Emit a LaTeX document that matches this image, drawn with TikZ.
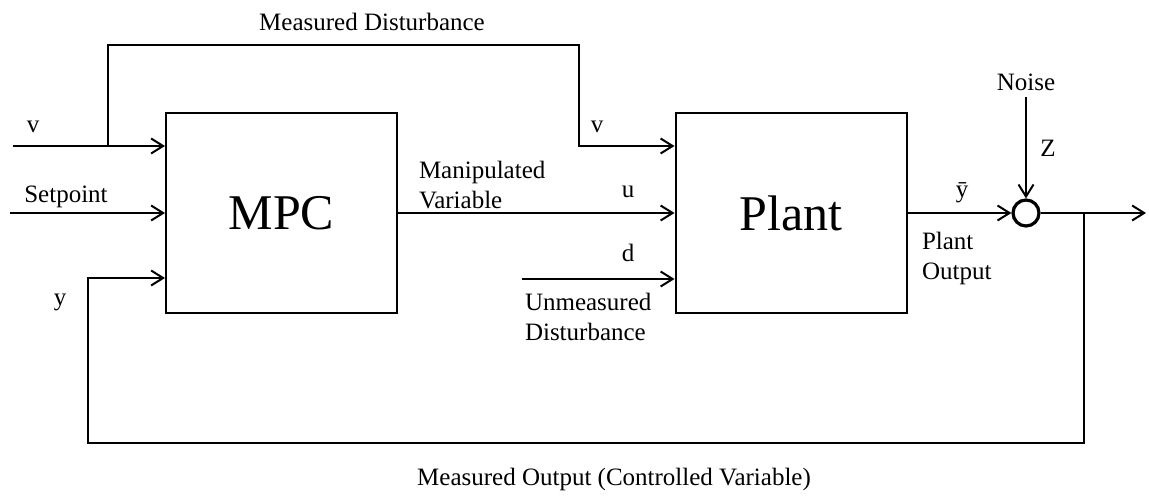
\documentclass[tikz,border=0pt]{standalone}
\usepackage{fontspec}
\setmainfont{Liberation Serif}
\usetikzlibrary{arrows.meta}
\begin{document}
\begin{tikzpicture}[x=0.5pt,y=-0.5pt,
  line width=1pt,
  arr/.style={-{Straight Barb[length=6pt,width=7.5pt,line width=1pt]}},
  blk/.style={draw,line width=1pt,minimum width=115.5pt,minimum height=100pt,inner sep=0pt,font=\fontsize{25}{30}\selectfont},
  lbl/.style={inner sep=0pt,font=\fontsize{12.5}{15}\selectfont},
  sumc/.style={draw,circle,line width=1.6pt,minimum size=13pt,inner sep=0pt}]
\useasboundingbox (0,0) rectangle (1149,496);
% blocks
\node[blk] (MPC) at (281.5,213) {MPC};
\node[blk] (Plant) at (791,213) {Plant};
\node[sumc] (sum) at (1026,213) {};
% free ends
\coordinate (vin) at (13,146);
\coordinate (br) at (108,146);
\coordinate (mdtop) at (579,45);
\coordinate (sp) at (10,213);
\coordinate (din) at (522,279);
\coordinate (nz) at (1026,97);
\coordinate (out) at (1146,213);
\coordinate (fb) at (1084,213);
\coordinate (fbl) at (88,443);
\coordinate (yin) at (88,278);
% connectors
\draw[arr] (vin) -- (vin -| MPC.west);
\draw[arr] (br) |- (mdtop) |- (Plant.west |- vin);
\draw[arr] (sp) -- (MPC.west);
\draw[arr] (MPC.east) -- (Plant.west);
\draw[arr] (din) -- (Plant.west |- din);
\draw[arr] (Plant.east) -- (sum.west);
\draw[arr] (nz) -- (sum.north);
\draw[arr] (sum.east) -- (out);
\draw[arr] (fb) |- (fbl) |- (MPC.west |- yin);
% labels
\node[lbl] (tmd) at (372,22) {Measured Disturbance};
\node[lbl] (tv1) at (33,127) {v};
\node[lbl] (tsp) at (66,197) {Setpoint};
\node[lbl] (ty) at (60,302) {y};
\node[lbl,align=left,anchor=west] (tmv) at (418,185) {Manipulated\\Variable};
\node[lbl] (tv2) at (597,127) {v};
\node[lbl] (tu) at (628,192) {u};
\node[lbl] (td) at (628,253) {d};
\node[lbl,align=left,anchor=west] (tud) at (524,317) {Unmeasured\\Disturbance};
\node[lbl] (tyb) at (962,193) {\={y}};
\node[lbl,align=left,anchor=west] (tpo) at (921,258) {Plant\\Output};
\node[lbl] (tno) at (1026,82) {Noise};
\node[lbl] (tz) at (1048,148) {Z};
\node[lbl] (tmo) at (614,479) {Measured Output (Controlled Variable)};
\end{tikzpicture}
\end{document}
